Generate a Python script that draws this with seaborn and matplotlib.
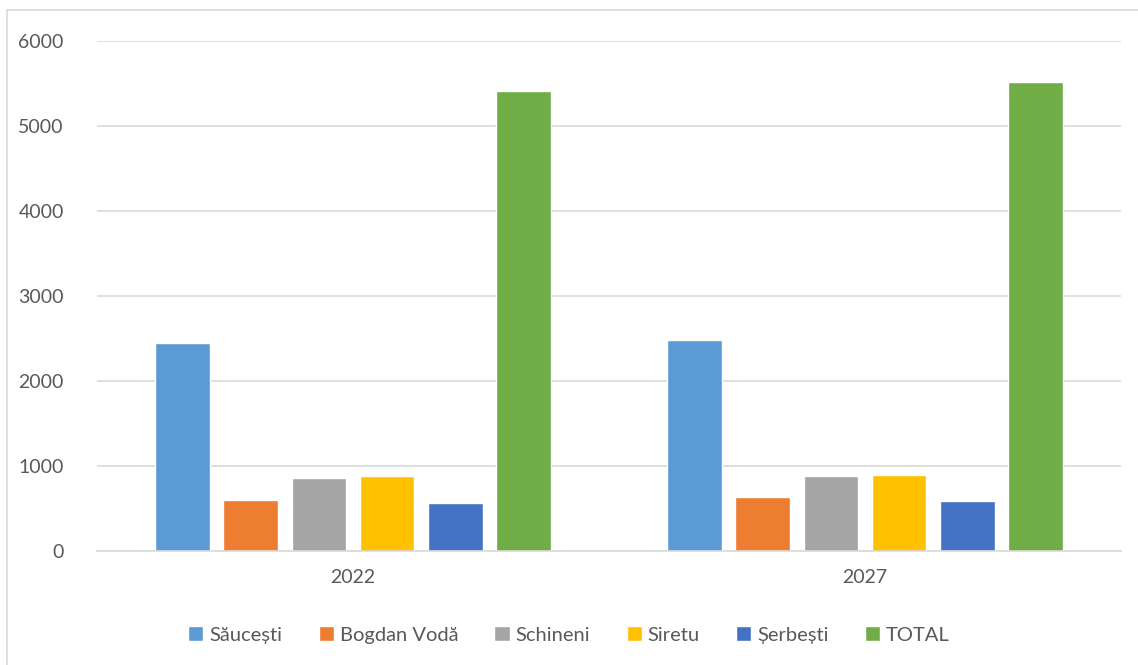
import pandas as pd
import seaborn as sns
import matplotlib
matplotlib.use('agg')
import matplotlib.pyplot as plt
from matplotlib.patches import Rectangle

years = ["2022", "2027"]
localities = ["Săucești", "Bogdan Vodă", "Schineni", "Siretu", "Șerbești", "TOTAL"]
values_2022 = [2450, 600, 862, 880, 568, 5410]
values_2027 = [2478, 630, 880, 900, 590, 5522]
colors = ["#5b9bd5", "#ed7d31", "#a5a5a5", "#ffc000", "#4472c4", "#70ad47"]

rows = []
for loc, v1, v2 in zip(localities, values_2022, values_2027):
    rows.append({"year": years[0], "loc": loc, "value": v1})
    rows.append({"year": years[1], "loc": loc, "value": v2})
data = pd.DataFrame(rows)

sns.set_style("white")
plt.rcParams['font.family'] = ['Lato', 'DejaVu Sans']

fig = plt.figure(figsize=(11.38, 6.65), dpi=100)
ax = fig.add_axes([97 / 1138, 1 - 551 / 665, 1024 / 1138, 510 / 665])

sns.barplot(data=data, x="year", y="value", hue="loc", order=years,
            hue_order=localities, palette=colors, width=0.8, gap=0.2,
            saturation=1, ax=ax, legend=True)

ax.set_ylim(0, 6000)
ax.set_xlim(-0.5, 1.5)
ax.set_yticks(range(0, 6001, 1000))
ax.yaxis.grid(True, color="#d9d9d9", linewidth=1.2)
ax.set_axisbelow(True)
for s in ["top", "right", "left"]:
    ax.spines[s].set_visible(False)
ax.spines["bottom"].set_color("#d9d9d9")
ax.spines["bottom"].set_linewidth(1.2)
ax.tick_params(axis="both", length=0, labelsize=14, colors="#595959")
ax.tick_params(axis="y", pad=24)
ax.tick_params(axis="x", pad=13)
ax.set_xlabel("")
ax.set_ylabel("")

handles, labels = ax.get_legend_handles_labels()
ax.get_legend().remove()
fig.legend(handles, labels, loc="center", bbox_to_anchor=(0.5, 1 - 635 / 665),
           ncol=6, frameon=False, fontsize=14.5, handlelength=0.75,
           handleheight=0.75, handletextpad=0.3, columnspacing=1.8,
           labelcolor="#595959")

fig.patches.append(Rectangle((7 / 1138, -0.05), 1.1, 1.05 - 10 / 665,
                             transform=fig.transFigure, fill=False,
                             edgecolor="#d9d9d9", linewidth=1.2))

fig.savefig("out.png", dpi=100)
